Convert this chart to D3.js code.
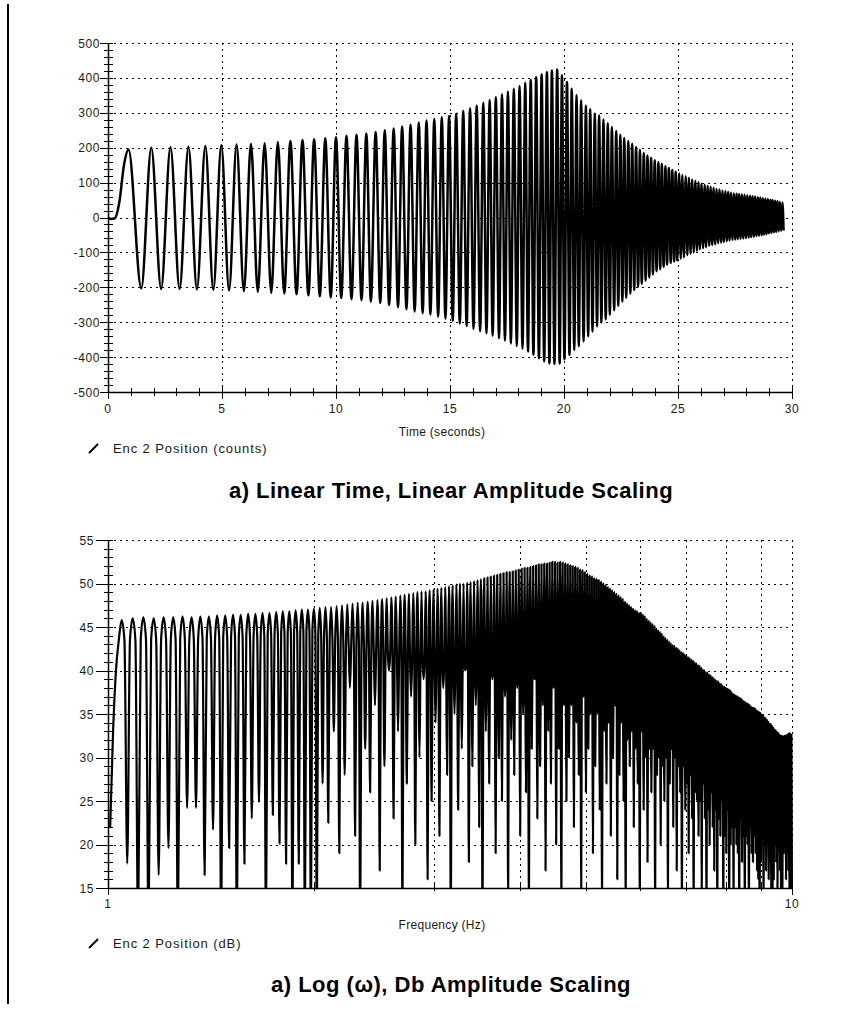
<!DOCTYPE html>
<html><head><meta charset="utf-8">
<script src="https://cdn.jsdelivr.net/npm/d3@7"></script>
<style>body{margin:0;background:#fff}svg{display:block}</style>
</head><body>
<script>
// ---------------- DATA: chart a) time response ----------------
const timeTicks = [0, 5, 10, 15, 20, 25, 30];
const countTicks = [-500, -400, -300, -200, -100, 0, 100, 200, 300, 400, 500];
const onsetTimeS = [0, 0.12, 0.30, 0.50, 0.70];
const onsetCounts = [0, -4, -2, 45, 150];
const peakTimeS = [0.90,1.90,2.74,3.53,4.27,4.97,5.64,6.27,6.87,7.45,8.00,8.53,9.04,9.53,10.00,10.46,10.90,11.33,11.74,12.14,
12.53,12.90,13.27,13.63,13.97,14.31,14.64,14.96,15.27,15.58,15.88,16.17,16.46,16.74,17.01,17.28,17.54,17.80,18.05,18.30,
18.54,18.78,19.02,19.25,19.47,19.70,19.91,20.13,20.34,20.55,20.75,20.96,21.15,21.35,21.54,21.73,21.92,22.10,22.29,22.47,
22.64,22.82,22.99,23.16,23.33,23.50,23.66,23.82,23.98,24.14,24.29,24.45,24.60,24.75,24.90,25.05,25.19,25.34,25.48,25.62,
25.76,25.90,26.03,26.17,26.30,26.43,26.56,26.69,26.82,26.95,27.08,27.20,27.32,27.45,27.57,27.68,27.80,27.92,28.04,28.16,
28.27,28.38,28.50,28.61,28.72,28.83,28.94,29.05,29.15,29.26,29.37,29.47,29.58];
const peakCounts = [195,200,201,203,205,207,209,211,213,216,219,222,224,227,230,234,237,241,245,250,
255,261,266,272,278,282,287,291,298,306,313,321,329,337,345,353,361,369,377,386,
394,402,410,416,421,424,407,388,369,351,336,321,311,298,293,281,270,259,248,237,
228,219,211,202,194,185,178,171,164,158,153,147,142,136,131,127,122,118,114,109,
105,101,97,94,91,88,85,82,80,77,75,73,71,69,68,67,66,65,63,62,
61,60,58,57,55,54,53,51,50,48,47,45,43];
const troughTimeS = [1.46,2.33,3.14,3.90,4.62,5.31,5.96,6.57,7.16,7.73,8.27,8.79,9.29,9.77,10.23,10.68,11.12,11.53,11.94,12.33,
12.72,13.09,13.45,13.80,14.14,14.48,14.80,15.12,15.43,15.73,16.03,16.32,16.60,16.87,17.15,17.41,17.67,17.93,18.18,18.42,
18.66,18.90,19.13,19.36,19.58,19.81,20.02,20.24,20.45,20.65,20.86,21.06,21.25,21.45,21.64,21.83,22.01,22.20,22.38,22.56,
22.73,22.91,23.08,23.25,23.41,23.58,23.74,23.90,24.06,24.22,24.37,24.52,24.68,24.83,24.97,25.12,25.26,25.41,25.55,25.69,
25.83,25.96,26.10,26.23,26.37,26.50,26.63,26.76,26.89,27.01,27.14,27.26,27.39,27.51,27.62,27.74,27.86,27.98,28.10,28.21,
28.33,28.44,28.55,28.67,28.77,28.88,28.99,29.10,29.21,29.31,29.42,29.52,29.63];
const troughCounts = [-203,-205,-205,-206,-207,-209,-211,-213,-216,-218,-220,-223,-226,-229,-231,-234,-237,-241,-245,-251,
-257,-263,-269,-274,-278,-284,-290,-296,-304,-311,-319,-326,-332,-339,-346,-353,-361,-368,-376,-384,
-393,-403,-412,-418,-419,-418,-406,-393,-380,-369,-355,-341,-327,-312,-301,-292,-279,-266,-253,-241,
-230,-218,-208,-198,-190,-181,-172,-163,-154,-148,-141,-135,-130,-126,-123,-118,-114,-108,-104,-100,
-96,-91,-88,-85,-81,-79,-77,-74,-72,-70,-68,-66,-64,-63,-62,-61,-60,-59,-57,-56,
-55,-53,-52,-51,-49,-48,-45,-44,-42,-41,-40,-38,-37];

// ---------------- DATA: chart b) spectrum ----------------
const freqLabelTicks = [1, 10];
const freqGridHz = [2, 3, 4, 5, 6, 7, 8, 9, 10];
const dbTicks = [15, 20, 25, 30, 35, 40, 45, 50, 55];
const specGridStartHz = 1.0073;   // first spectral sample
const specGridStepHz = 0.009925;  // spacing of spectral samples
const specOnsetDb = [22, 33, 40];
const specPeakDb = [
45.8,46.0,46.1,46.0,46.1,46.1,46.2,46.1,46.2,46.2,
46.3,46.3,46.4,46.4,46.5,46.5,46.6,46.6,46.7,46.8,
46.8,46.9,47.0,47.0,47.1,47.2,47.3,47.3,47.4,47.5,
47.6,47.7,47.8,47.8,47.9,48.0,48.1,48.2,48.3,48.4,
48.5,48.6,48.7,48.8,48.9,49.0,49.1,49.1,49.2,49.3,
49.4,49.5,49.6,49.7,49.8,49.9,50.0,50.0,50.1,50.2,
50.3,50.4,50.5,50.6,50.7,50.8,50.9,51.0,51.1,51.2,
51.3,51.3,51.4,51.5,51.6,51.7,51.8,51.8,51.9,52.0,
52.1,52.2,52.2,52.3,52.3,52.4,52.5,52.5,52.4,52.5,
52.4,52.3,52.2,52.1,52.0,51.9,51.8,51.6,51.5,51.3,
51.1,50.9,50.8,50.6,50.5,50.4,50.2,50.0,49.8,49.6,
49.4,49.2,49.0,48.8,48.6,48.4,48.2,47.9,47.7,47.5,
47.3,47.1,46.9,46.8,46.6,46.6,46.4,46.2,45.9,45.7,
45.5,45.3,45.1,44.8,44.6,44.4,44.2,43.9,43.7,43.5,
43.3,43.1,42.9,42.8,42.6,42.5,42.3,42.1,42.0,41.8,
41.7,41.5,41.4,41.2,41.1,40.9,40.8,40.6,40.5,40.3,
40.1,40.0,39.8,39.7,39.5,39.4,39.2,39.1,38.9,38.8,
38.7,38.5,38.4,38.2,38.1,38.0,37.9,37.8,37.7,37.5,
37.3,37.2,37.1,37.0,36.9,36.8,36.7,36.5,36.4,36.3,
36.2,36.1,36.0,35.8,35.7,35.7,35.6,35.4,35.3,35.2,
35.1,34.9,34.8,34.6,34.5,34.3,34.1,33.9,33.8,33.6,
33.4,33.2,33.1,32.9,32.8,32.6,32.5,32.5,32.4,32.5,
32.5,32.6,32.7,32.8,32.7,32.6];
const specShoulderDb = [
43.5,43.5,43.6,43.5,43.6,43.6,43.7,43.6,43.7,43.7,
43.8,43.8,43.9,43.9,44.0,44.0,44.1,44.1,44.2,44.3,
44.3,44.4,44.5,44.5,44.6,44.0,43.8,43.5,43.5,43.2,
43.0,43.0,42.8,42.6,42.5,42.4,42.3,42.2,42.0,42.0,
41.8,41.8,41.6,41.5,41.4,41.3,41.2,41.0,41.0,41.0,
41.0,40.9,40.9,40.8,40.8,40.7,40.7,40.6,40.6,40.5,
40.5,40.4,40.4,40.3,40.3,40.2,40.2,40.1,40.1,40.0,
40.0,40.0,39.9,39.9,39.8,39.8,39.7,39.7,39.6,39.6,
39.5,39.5,39.4,39.4,39.3,39.3,39.2,39.2,39.1,39.1,
39.0,39.0,38.9,38.9,38.8,38.8,38.7,38.7,38.6,38.6,
38.5,38.4,38.3,38.2,38.1,38.0,37.9,37.8,37.7,37.6,
37.5,37.4,37.3,37.2,37.1,37.0,36.8,36.6,36.4,36.2,
36.0,35.8,35.6,35.4,35.2,35.0,34.8,34.6,34.4,34.2,
34.0,33.9,33.8,33.7,33.6,33.5,33.4,33.3,33.2,33.1,
33.0,32.8,32.6,32.4,32.2,32.0,31.8,31.6,31.4,31.2,
31.0,30.8,30.6,30.4,30.2,30.0,29.8,29.6,29.4,29.2,
29.0,28.9,28.8,28.7,28.6,28.5,28.4,28.3,28.2,28.1,
28.0,27.9,27.8,27.7,27.6,27.5,27.4,27.3,27.2,27.1,
27.0,26.9,26.8,26.7,26.6,26.5,26.4,26.3,26.2,26.1,
26.0,25.9,25.8,25.7,25.6,25.5,25.4,25.3,25.2,25.1,
25.0,24.9,24.8,24.7,24.6,24.5,24.4,24.3,24.2,24.1,
24.0,24.0,24.0,24.0,24.0,24.0,24.0,24.0,24.0,24.0,
24.0,24.0,24.0,24.0,24.0,24.0];
const specNullDb = [
17.8,10,10,16.5,19.6,10,24.2,24.2,16.5,21.7,
10,19.6,10,17.8,23.0,24.9,10,23.4,20.1,17.8,
10,17.8,10,10,10,27.0,22.5,33,19,28,
38,21,10,31,26,36,17,29,40,23,
33,12,27,37,20,30,39,16,25,34,
21,38,28,10,35,24,31,40,18,29,
36,22,10,33,27,39,19,30,25,37,
14,32,28,38,21,35,26,10,31,39,
23,29,36,17,33,27,38,20,31,10,
36,25,30,36,22,34,28,12,37,26,
31,35,19,29,35,24,10,33,27,34,
21,30,36,16,28,34,25,10,32,29,
33,22,31,27,10,33,24,30,18,31,
26,31,10,28,30,20,29,25,30,12,
27,31,22,30,17,29,26,10,29,24,
27,19,28,23,10,26,25,21,25,14,
27,23,10,24,20,26,22,17,24,10,
23,21,25,10,21,19,24,10,20,22,
12,22,20,19,10,23,18,21,10,21,
20,10,22,19,18,21,19,17,16,10,
18,21,12,20,17,22,16,18,14,10,
16,20,18,15,21,17,10,14,19,22,
16,21,17,10,19,12];

// ---------------- DRAWING ----------------
const W = 851, H = 1014;
const FONT = "'Liberation Sans', Arial, Helvetica, sans-serif";
const svg = d3.select("body").append("svg").attr("width", W).attr("height", H);

// left page rule
svg.append("line").attr("x1", 8).attr("x2", 8).attr("y1", 4).attr("y2", 1004)
  .attr("stroke", "#000").attr("stroke-width", 2);

const L = 108, R = 792;

function dottedH(g, y, x0, x1) {
  g.append("line").attr("x1", x0).attr("x2", x1).attr("y1", y).attr("y2", y)
    .attr("stroke", "#000").attr("stroke-width", 1).attr("stroke-dasharray", "2,4");
}
function dottedV(g, x, y0, y1) {
  g.append("line").attr("x1", x).attr("x2", x).attr("y1", y0).attr("y2", y1)
    .attr("stroke", "#000").attr("stroke-width", 1).attr("stroke-dasharray", "2,4");
}
function tickLine(g, x1, y1, x2, y2) {
  g.append("line").attr("x1", x1).attr("y1", y1).attr("x2", x2).attr("y2", y2)
    .attr("stroke", "#000").attr("stroke-width", 1);
}
function label(g, x, y, txt, anchor, size, ls) {
  return g.append("text").attr("x", x).attr("y", y).attr("text-anchor", anchor)
    .attr("font-family", FONT).attr("font-size", size).attr("letter-spacing", ls || 0)
    .attr("fill", "#1a1a1a").text(txt);
}

// ===== Chart 1 =====
{
  const T = 43, B = 392;
  const x = d3.scaleLinear().domain([0, 30]).range([L, R]);
  const y = d3.scaleLinear().domain([-500, 500]).range([B, T]);
  const g = svg.append("g");

  countTicks.filter(v => v > -500).forEach(v => dottedH(g, Math.round(y(v)) + 0.5, L, R));
  timeTicks.filter(v => v > 0).forEach(v => dottedV(g, Math.round(x(v)) + 0.5, T, B));

  d3.range(-500, 501, 20).forEach(v => {
    const yy = Math.round(y(v)) + 0.5;
    if (v % 100 === 0) tickLine(g, L - 8, yy, L + 5, yy);
    else tickLine(g, L - 4, yy, L + 5, yy);
  });
  d3.range(0, 31, 1).forEach(v => {
    const xx = Math.round(x(v)) + 0.5;
    if (v % 5 === 0) tickLine(g, xx, B - 6, xx, B + 7);
    else tickLine(g, xx, B - 4, xx, B + 4);
  });

  g.append("line").attr("x1", L + 0.5).attr("x2", L + 0.5).attr("y1", T).attr("y2", B)
    .attr("stroke", "#000").attr("stroke-width", 1.5);
  g.append("line").attr("x1", L).attr("x2", R).attr("y1", B + 0.5).attr("y2", B + 0.5)
    .attr("stroke", "#000").attr("stroke-width", 1.5);

  countTicks.forEach(v => label(g, L - 8, y(v) + 4.5, String(v), "end", 12, 0.6));
  timeTicks.forEach(v => label(g, x(v), B + 21, String(v), "middle", 12, 0.6));
  label(g, 442, 436, "Time (seconds)", "middle", 12, 0.3);

  const pts = [];
  onsetTimeS.forEach((t, i) => pts.push({ t, v: onsetCounts[i] }));
  peakTimeS.forEach((t, i) => pts.push({ t, v: peakCounts[i] }));
  troughTimeS.forEach((t, i) => pts.push({ t, v: troughCounts[i] }));
  pts.sort((a, b) => a.t - b.t);
  const line = d3.line().x(d => x(d.t)).y(d => y(d.v)).curve(d3.curveMonotoneX);
  g.append("path").attr("d", line(pts)).attr("fill", "none").attr("stroke", "#000")
    .attr("stroke-width", 2.5).attr("stroke-linejoin", "round");

  g.append("line").attr("x1", 89).attr("y1", 453).attr("x2", 98).attr("y2", 444)
    .attr("stroke", "#000").attr("stroke-width", 2);
  label(g, 113, 453, "Enc 2 Position (counts)", "start", 13, 0.9);

  g.append("text").attr("x", 451).attr("y", 498).attr("text-anchor", "middle")
    .attr("font-family", FONT).attr("font-weight", "bold").attr("font-size", 22)
    .attr("letter-spacing", 0.5).attr("fill", "#000")
    .text("a) Linear Time, Linear Amplitude Scaling");
}

// ===== Chart 2 =====
{
  const T = 540, B = 888;
  const x = d3.scaleLog().domain([1, 10]).range([L, R]);
  const y = d3.scaleLinear().domain([15, 55]).range([B, T]);
  const g = svg.append("g");

  dbTicks.filter(v => v > 15).forEach(v => dottedH(g, Math.round(y(v)) + 0.5, L, R));
  freqGridHz.forEach(v => dottedV(g, Math.round(x(v)) + 0.5, T, B));

  d3.range(15, 56, 1).forEach(v => {
    const yy = Math.round(y(v)) + 0.5;
    if (v % 5 === 0) tickLine(g, L - 12, yy, L + 5, yy);
    else tickLine(g, L - 4, yy, L + 5, yy);
  });
  freqGridHz.forEach(v => {
    const xx = Math.round(x(v)) + 0.5;
    if (v === 10) tickLine(g, xx, B - 6, xx, B + 7);
    else tickLine(g, xx, B - 5, xx, B + 3);
  });
  tickLine(g, L + 0.5, B, L + 0.5, B + 7);

  const clipId = "clipSpec";
  svg.append("clipPath").attr("id", clipId).append("rect")
    .attr("x", L).attr("y", T - 5).attr("width", R - L + 2).attr("height", B - T + 5);

  const pts = [];
  specOnsetDb.forEach((v, i) => pts.push({ i, v }));
  specPeakDb.forEach((p, k) => {
    pts.push({ i: 3 + 4 * k, v: specShoulderDb[k] });
    pts.push({ i: 4 + 4 * k, v: p });
    pts.push({ i: 5 + 4 * k, v: specShoulderDb[k] });
    pts.push({ i: 6 + 4 * k, v: specNullDb[k] });
  });
  const line = d3.line()
    .x(d => x(specGridStartHz + d.i * specGridStepHz))
    .y(d => y(d.v)).curve(d3.curveMonotoneX);
  g.append("path").attr("d", line(pts)).attr("clip-path", `url(#${clipId})`)
    .attr("fill", "none").attr("stroke", "#000").attr("stroke-width", 2.2)
    .attr("stroke-linejoin", "round");

  g.append("line").attr("x1", L + 0.5).attr("x2", L + 0.5).attr("y1", T).attr("y2", B)
    .attr("stroke", "#000").attr("stroke-width", 1.5);
  g.append("line").attr("x1", L).attr("x2", R).attr("y1", B + 0.5).attr("y2", B + 0.5)
    .attr("stroke", "#000").attr("stroke-width", 1.5);

  dbTicks.forEach(v => label(g, L - 14, y(v) + 4.5, String(v), "end", 12, 0.6));
  freqLabelTicks.forEach(v => label(g, x(v), B + 20, String(v), "middle", 12, 0.6));
  label(g, 442, 929, "Frequency (Hz)", "middle", 12, 0.3);

  g.append("line").attr("x1", 89).attr("y1", 948).attr("x2", 98).attr("y2", 939)
    .attr("stroke", "#000").attr("stroke-width", 2);
  label(g, 113, 948, "Enc 2 Position (dB)", "start", 13, 0.9);

  g.append("text").attr("x", 451).attr("y", 992).attr("text-anchor", "middle")
    .attr("font-family", FONT).attr("font-weight", "bold").attr("font-size", 22)
    .attr("letter-spacing", 0.5).attr("fill", "#000")
    .text("a) Log (ω), Db Amplitude Scaling");
}
</script>
</body></html>
